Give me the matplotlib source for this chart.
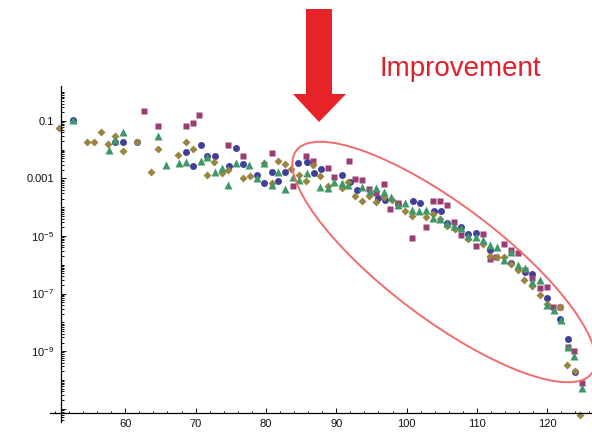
import numpy as np
import matplotlib
matplotlib.use("Agg")
import matplotlib.pyplot as plt
from matplotlib.patches import Ellipse, Polygon
from matplotlib.ticker import FixedLocator, FixedFormatter, LogLocator, NullFormatter

plt.rcParams['font.family'] = ['Liberation Sans', 'DejaVu Sans']
plt.rcParams['mathtext.fontset'] = 'custom'
plt.rcParams['mathtext.rm'] = 'Liberation Sans'
plt.rcParams['mathtext.it'] = 'Liberation Sans:italic'

# values: x and log10(y) for each of the four series
blue_x = [52.6, 58.6, 59.7, 61.6, 68.7, 69.6, 70.7, 71.6, 72.7, 74.8, 75.7, 76.7, 78.8, 79.7,
          80.8, 81.7, 82.7, 84.6, 85.8, 86.9, 87.8, 90.8, 91.9, 92.9, 95.9, 96.9, 98.8, 100.9,
          101.9, 103.9, 104.9, 105.8, 107.8, 108.8, 109.9, 111.8, 114.9, 116.9, 117.8, 119.9,
          121.8, 123.0, 123.9]
blue_logy = [-0.96, -1.73, -1.73, -1.73, -2.09, -2.56, -1.84, -2.21, -2.21, -2.56, -1.96, -2.51,
             -2.88, -3.17, -2.79, -3.09, -2.79, -2.46, -2.42, -2.82, -2.68, -2.87, -3.11, -3.40,
             -3.69, -3.75, -3.90, -3.79, -3.87, -4.14, -4.14, -4.55, -4.70, -4.94, -4.91, -5.50,
             -5.95, -6.24, -6.32, -7.14, -7.89, -8.59, -9.71]

purple_x = [62.7, 64.7, 68.7, 69.6, 70.5, 74.6, 76.7, 80.8, 83.8, 85.7, 86.7, 88.8, 89.7, 91.8,
            92.6, 93.7, 94.7, 95.7, 96.8, 97.7, 98.8, 100.7, 102.7, 103.8, 104.8, 105.8, 106.8,
            107.7, 109.9, 110.8, 111.8, 112.7, 113.8, 114.8, 115.8, 116.9, 117.8, 118.9, 119.9,
            120.8, 121.8, 122.9, 123.8, 124.9]
purple_logy = [-0.65, -1.18, -1.18, -1.09, -0.80, -1.84, -2.22, -2.13, -3.26, -2.22, -2.40, -2.65,
               -2.94, -2.40, -3.03, -3.06, -3.38, -3.52, -3.18, -4.06, -3.84, -5.06, -4.67, -3.80,
               -3.80, -3.92, -4.50, -4.98, -5.33, -4.93, -5.81, -5.72, -5.29, -5.49, -5.59, -6.18,
               -6.46, -6.82, -6.76, -7.46, -7.46, -8.84, -8.98, -10.11]

olive_x = [50.6, 54.5, 55.6, 56.6, 57.5, 58.6, 59.7, 61.6, 63.6, 64.7, 67.5, 68.6, 69.6, 71.6,
           72.6, 73.7, 74.6, 76.7, 77.7, 79.7, 80.8, 81.7, 82.7, 83.6, 84.7, 85.7, 86.7, 87.7,
           88.8, 90.8, 91.7, 92.7, 93.7, 94.7, 95.7, 96.8, 97.9, 99.8, 100.8, 102.8, 103.7,
           104.7, 105.8, 106.9, 108.8, 110.9, 111.8, 112.8, 113.8, 114.8, 115.8, 116.7, 117.8,
           118.9, 119.9, 121.8, 122.8, 123.9, 124.7]
olive_logy = [-1.26, -1.73, -1.73, -1.38, -1.79, -1.53, -2.04, -1.73, -2.77, -1.99, -2.20, -1.73,
              -1.99, -2.88, -2.42, -2.82, -2.71, -3.00, -2.91, -2.46, -3.17, -2.39, -2.51, -2.67,
              -2.88, -3.08, -2.54, -2.90, -3.26, -3.32, -3.13, -3.61, -3.77, -3.61, -3.81, -3.65,
              -3.75, -4.14, -4.30, -4.34, -4.23, -4.41, -4.65, -4.77, -5.11, -5.28, -5.71, -5.73,
              -5.73, -5.97, -6.18, -6.53, -6.72, -7.05, -7.36, -7.48, -9.48, -9.68, -11.22]

green_x = [52.6, 57.7, 58.6, 59.7, 64.7, 65.8, 67.7, 68.7, 70.7, 71.6, 72.7, 73.8, 74.6, 75.7,
           77.6, 78.8, 79.7, 80.8, 81.7, 82.7, 83.8, 84.7, 85.8, 87.7, 88.8, 89.7, 90.8, 91.7,
           93.7, 94.8, 95.7, 96.8, 97.8, 98.8, 99.8, 100.8, 101.8, 102.8, 103.8, 104.7, 105.8,
           106.8, 107.8, 108.8, 109.8, 110.9, 111.9, 112.8, 113.8, 114.9, 115.9, 116.9, 117.8,
           118.9, 119.9, 120.9, 121.9, 122.9, 123.8, 124.9]
green_logy = [-0.96, -2.00, -1.65, -1.38, -1.51, -2.54, -2.48, -2.43, -2.39, -2.27, -2.77, -2.65,
              -3.23, -2.48, -2.54, -2.98, -2.48, -3.23, -2.79, -3.38, -2.94, -3.06, -2.82, -3.29,
              -3.34, -3.11, -3.17, -3.23, -3.29, -3.44, -3.32, -3.46, -3.64, -3.92, -3.85, -4.10,
              -4.13, -4.11, -4.36, -4.41, -4.55, -4.65, -4.73, -5.01, -5.05, -5.14, -5.32, -5.37,
              -5.83, -5.55, -5.99, -6.11, -6.60, -6.53, -7.40, -7.57, -7.92, -8.84, -9.17, -10.29]

x_ticks = [60, 70, 80, 90, 100, 110, 120]
y_ticks = [1e-1, 1e-3, 1e-5, 1e-7, 1e-9, 1e-11]
y_labels = ['0.1', '0.001', '$10^{-5}$', '$10^{-7}$', '$10^{-9}$', '']

fig = plt.figure(figsize=(5.92, 4.32), dpi=100)
ax = fig.add_axes([50 / 592, 10 / 432, 542 / 592, 336 / 432])
ax.set_yscale('log')
ax.set_xlim(49.3, 126.36)
ax.set_ylim(10 ** -11.46, 10 ** 0.21)

# Mathematica default series styles, drawn in series order
series = [
    (blue_x, blue_logy, '#3f3f9c', 'o', 5.0),
    (purple_x, purple_logy, '#993d74', 's', 4.6),
    (olive_x, olive_logy, '#998540', 'D', 3.9),
    (green_x, green_logy, '#3d9966', '^', 5.2),
]
for xs, ly, col, mk, ms in series:
    ax.plot(xs, np.power(10.0, ly), ls='none', marker=mk, ms=ms, color=col,
            mec='none', clip_on=False)

# axes crossing like Mathematica
ax.spines['left'].set_position(('data', 50.83))
ax.spines['bottom'].set_position(('data', 10 ** -11.15))
ax.spines['top'].set_visible(False)
ax.spines['right'].set_visible(False)
for s in ('left', 'bottom'):
    ax.spines[s].set_linewidth(0.9)

ax.xaxis.set_major_locator(FixedLocator(x_ticks))
ax.xaxis.set_minor_locator(FixedLocator(list(range(50, 127, 2))))
ax.yaxis.set_major_locator(FixedLocator(y_ticks))
ax.yaxis.set_major_formatter(FixedFormatter(y_labels))
ax.yaxis.set_minor_locator(LogLocator(base=10, subs=np.arange(1, 10), numticks=100))
ax.yaxis.set_minor_formatter(NullFormatter())

ax.tick_params(which='both', direction='in', width=0.7, colors='#111111', labelsize=8)
ax.tick_params(which='major', length=3.5)
ax.tick_params(which='minor', length=1.8)
ax.tick_params(axis='x', pad=4.5)
ax.tick_params(axis='y', pad=5)

# annotations in pixel space
ov = fig.add_axes([0, 0, 1, 1])
ov.set_xlim(0, 592)
ov.set_ylim(432, 0)
ov.axis('off')
ov.patch.set_alpha(0)

arrow = Polygon([(306, 9), (332, 9), (332, 94), (346, 94), (319, 122), (293, 94), (306, 94)],
                closed=True, color='#e52329', lw=0)
ov.add_patch(arrow)
ov.text(460, 76, 'Improvement', color='#e31e2a', fontsize=20, ha='center', va='baseline')
ov.add_patch(Ellipse((444, 262), 370, 114, angle=37, fill=False, ec='#f06c6c', lw=1.4))

fig.savefig('out.png', dpi=100, facecolor='white')
